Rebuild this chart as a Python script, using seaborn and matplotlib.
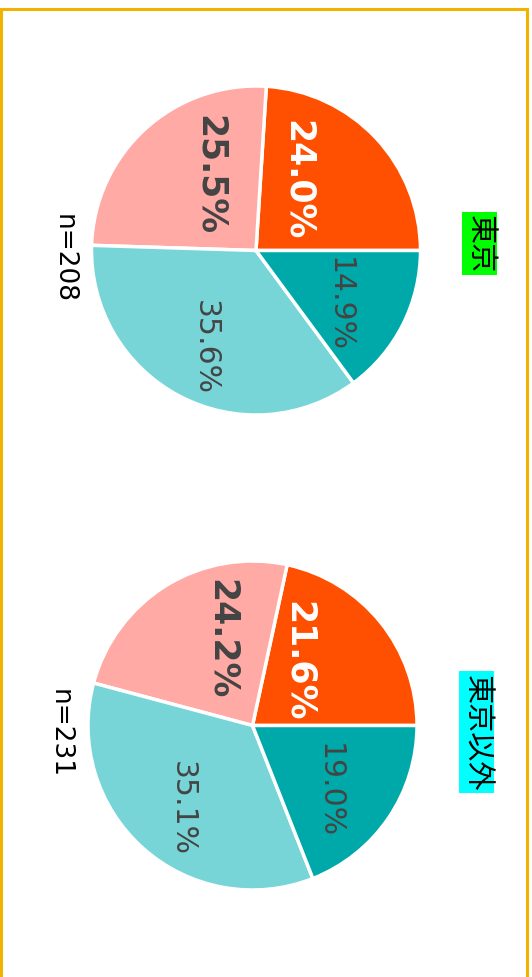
import numpy as np
import seaborn as sns
import matplotlib.pyplot as plt
from matplotlib.patches import Rectangle

# データ
groups = ['東京', '東京以外']
group_bg = ['#00ff00', '#00ffff']
n_counts = [208, 231]
shares_tokyo = [24.0, 25.5, 35.6, 14.9]
shares_other = [21.6, 24.2, 35.1, 19.0]
colors = ['#ff4f00', '#ffaaa5', '#78d5d7', '#00a9a9']
label_colors = ['white', '#444444', '#444444', '#444444']
label_bold = [True, True, False, False]

sns.set_theme(style="white")
plt.rcParams['font.family'] = ['DejaVu Sans', 'Noto Sans CJK JP']

fig = plt.figure(figsize=(5.32, 9.78), dpi=100)
W, H = 532, 978
R = 164.5
LIM = 1.3

# 枠線 (下辺は画像の外)
fig.patches.append(Rectangle((1 / W, -0.02), 526 / W, 1.02 - 9.5 / H, transform=fig.transFigure,
                             fill=False, edgecolor='#f0b400', linewidth=2.2))

centers = [(256, 251.5), (252.5, 726.5)]
title_dy = [0.045, -0.04]
all_shares = [shares_tokyo, shares_other]

for (cx, cy), shares, name, bg, n, tdy in zip(centers, all_shares, groups, group_bg, n_counts, title_dy):
    half = LIM * R
    ax = fig.add_axes([(cx - half) / W, (H - cy - half) / H, 2 * half / W, 2 * half / H])
    wedges, texts, autotexts = ax.pie(shares, colors=colors, startangle=0, counterclock=True,
                                      autopct='%1.1f%%', pctdistance=0.6,
                                      wedgeprops=dict(edgecolor='white', linewidth=2.5))
    for t, c, b in zip(autotexts, label_colors, label_bold):
        t.set_color(c)
        t.set_rotation(270)
        t.set_ha('center')
        t.set_va('center')
        x, y = t.get_position()
        if b:
            t.set_fontweight('bold')
            t.set_fontsize(25)
            t.set_position((x - np.sign(x) * 0.155 - 0.03, y + 0.02))
        else:
            t.set_fontsize(21.5)
            t.set_position((x - 0.03, y - 0.05))
    ax.set_xlim(-LIM, LIM)
    ax.set_ylim(-LIM, LIM)
    ax.set_aspect('equal')
    ax.axis('off')

    # グループ名と件数
    ax.text(1.36, tdy, name, rotation=270, ha='center', va='center', fontsize=21,
            family=['Noto Sans CJK JP'], color='black',
            bbox=dict(boxstyle='square,pad=0.08', facecolor=bg, edgecolor='none'))
    ax.text(-1.17, -0.04, f'n={n}', rotation=270, ha='center', va='center', fontsize=19,
            color='black')

fig.savefig('out.png', dpi=100)
